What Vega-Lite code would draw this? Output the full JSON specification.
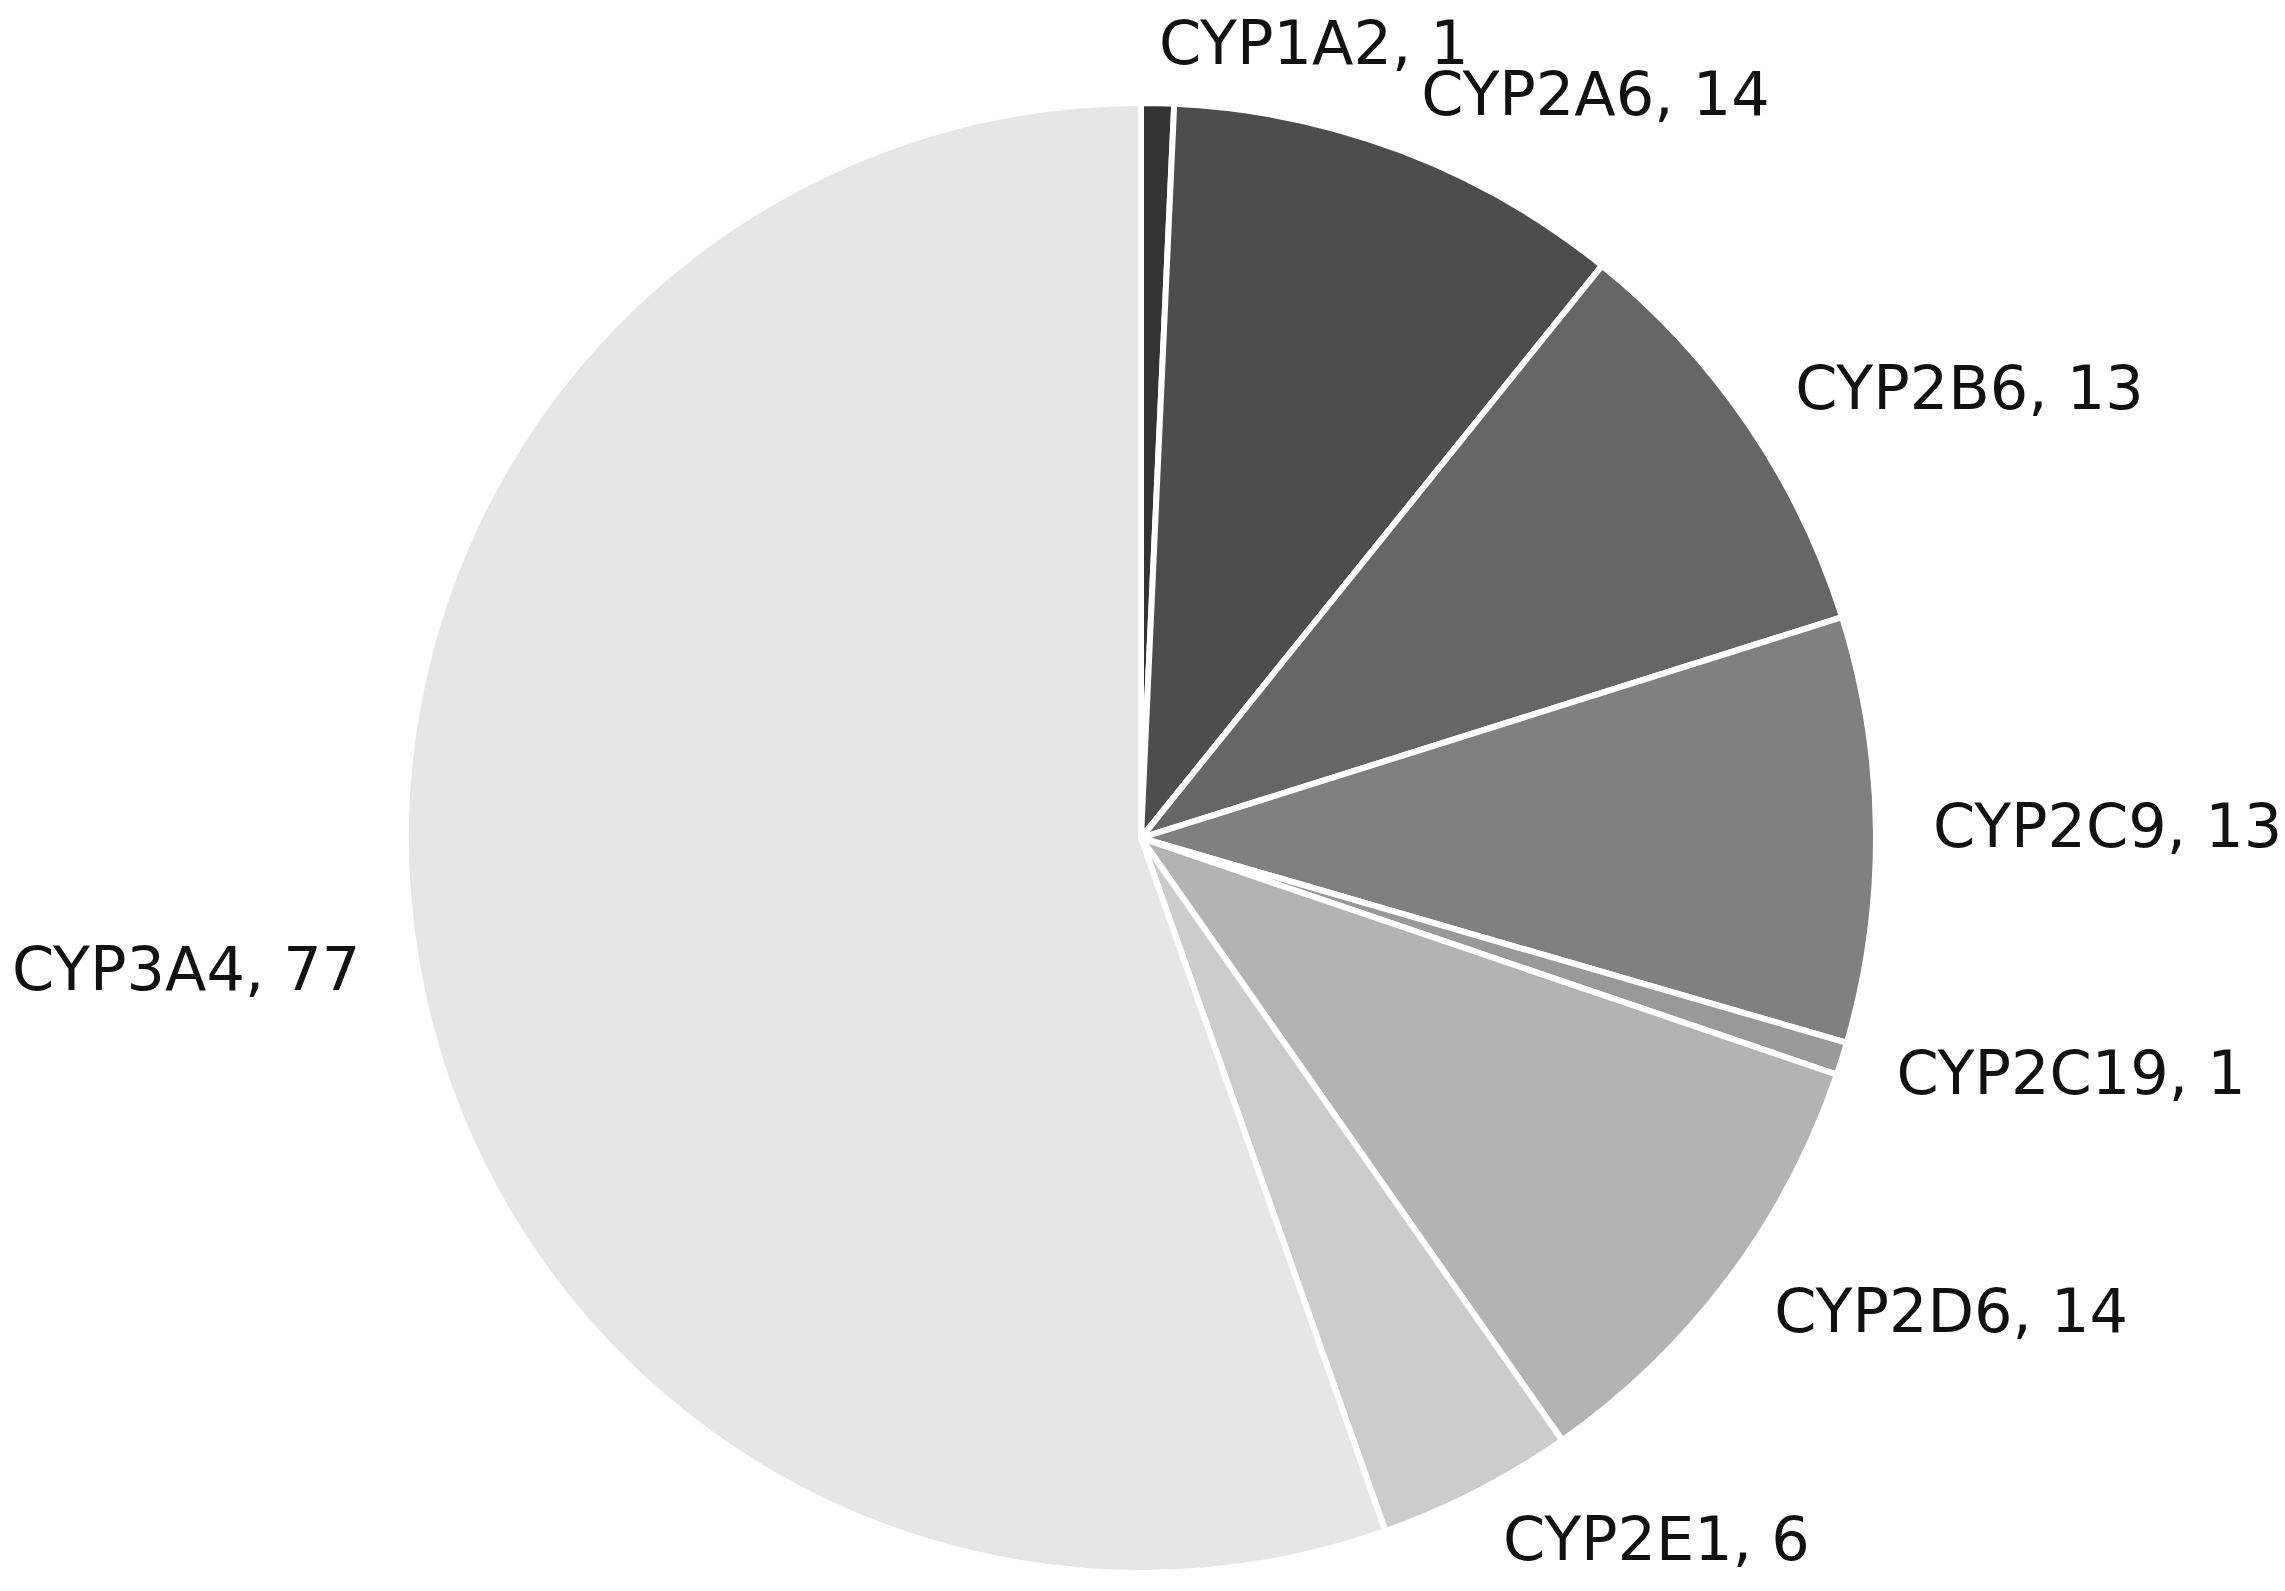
{
  "$schema": "https://vega.github.io/schema/vega-lite/v6.json",
  "autosize": {"type": "none"},
  "width": 2282,
  "height": 1506,
  "padding": {"top": 85, "left": 0, "right": 3, "bottom": 0},
  "background": "white",
  "config": {"font": "DejaVu Sans", "view": {"stroke": null}},
  "data": {
    "values": [
      {"gene": "CYP1A2", "count": 1},
      {"gene": "CYP2A6", "count": 14},
      {"gene": "CYP2B6", "count": 13},
      {"gene": "CYP2C9", "count": 13},
      {"gene": "CYP2C19", "count": 1},
      {"gene": "CYP2D6", "count": 14},
      {"gene": "CYP2E1", "count": 6},
      {"gene": "CYP3A4", "count": 77}
    ]
  },
  "transform": [
    {"window": [{"op": "row_number", "as": "idx"}]},
    {"calculate": "datum.gene + ', ' + datum.count", "as": "label"}
  ],
  "encoding": {
    "theta": {"field": "count", "type": "quantitative", "stack": true},
    "order": {"field": "idx", "type": "quantitative"}
  },
  "layer": [
    {
      "mark": {"type": "arc", "radius": 735, "stroke": "white", "strokeWidth": 6},
      "encoding": {
        "color": {
          "field": "gene",
          "type": "nominal",
          "legend": null,
          "scale": {
            "domain": ["CYP1A2", "CYP2A6", "CYP2B6", "CYP2C9", "CYP2C19", "CYP2D6", "CYP2E1", "CYP3A4"],
            "range": ["#333333", "#4d4d4d", "#666666", "#808080", "#999999", "#b3b3b3", "#cccccc", "#e6e6e6"]
          }
        }
      }
    },
    {
      "mark": {"type": "text", "radius": 792, "align": "left", "baseline": "middle", "fontSize": 60.5, "color": "#111111"},
      "encoding": {
        "text": {"condition": {"test": "datum.gene != 'CYP3A4'", "field": "label"}, "value": ""}
      }
    },
    {
      "mark": {"type": "text", "radius": 792, "align": "right", "baseline": "middle", "fontSize": 60.5, "color": "#111111"},
      "encoding": {
        "text": {"condition": {"test": "datum.gene == 'CYP3A4'", "field": "label"}, "value": ""}
      }
    }
  ]
}
